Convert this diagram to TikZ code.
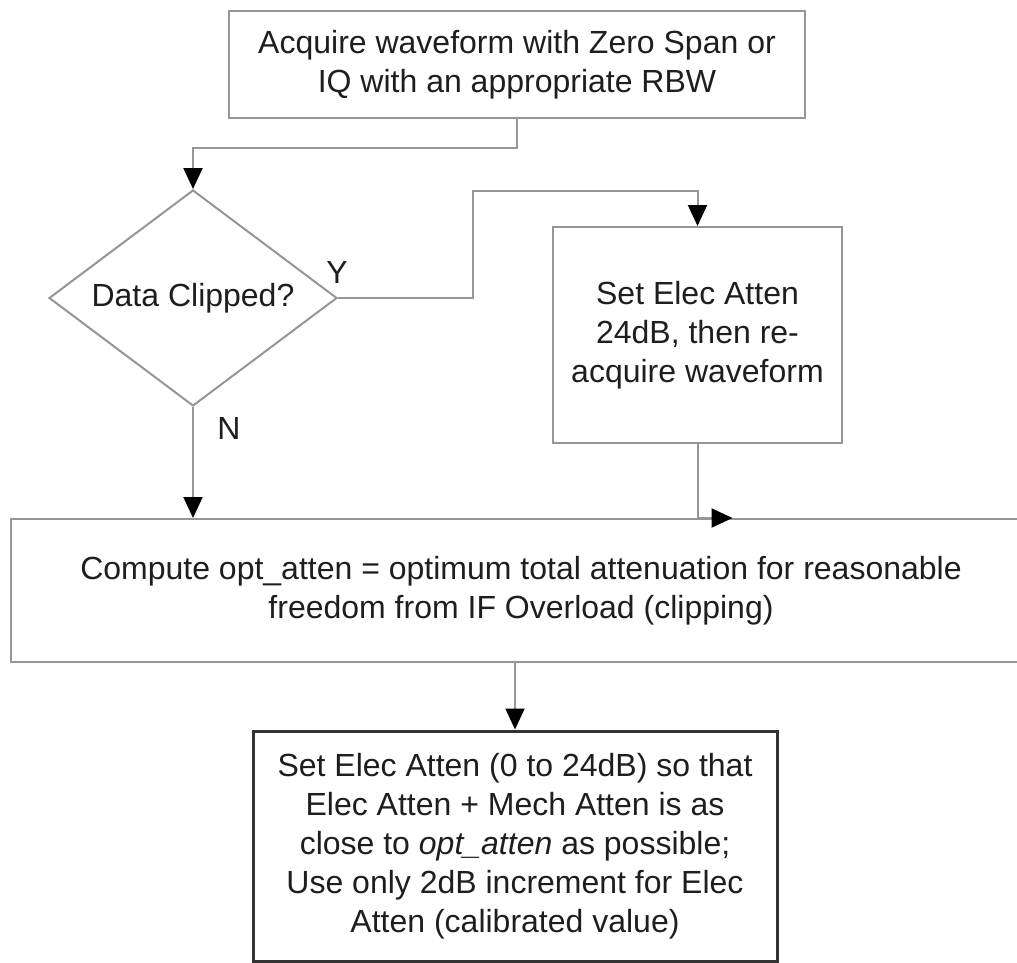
\documentclass[tikz,border=0pt]{standalone}
\usepackage{fontspec}
\setmainfont{Liberation Sans}
\usetikzlibrary{arrows.meta,shapes.geometric}
\definecolor{linegray}{RGB}{150,150,150}
\definecolor{textdark}{RGB}{30,30,30}

\begin{document}
\begin{tikzpicture}[
  x=0.5pt, y=-0.5pt,
  every node/.style={font=\fontsize{16}{19.5}\selectfont, text=textdark},
  box/.style={draw=linegray, line width=1pt, inner sep=0pt, align=center},
  decision/.style={diamond, draw=linegray, line width=1pt, inner sep=0pt, aspect=1.33, minimum width=144pt, minimum height=108pt},
  flow/.style={draw=linegray, line width=1pt, -{Triangle[length=10.5pt, width=9.5pt, black]}}
]
\path[use as bounding box, clip] (0,0) rectangle (1017,963);

% boxes
\node[box, minimum width=288pt, minimum height=53.5pt] (acquire) at (517,64.5)
  {Acquire waveform with Zero Span or\\IQ with an appropriate RBW};
\node[decision] (clipped) at (193,298) {Data Clipped?};
\node[box, minimum width=144.5pt, minimum height=108pt] (reacquire) at (697.5,335)
  {Set Elec Atten\\24dB, then re-\\acquire waveform};
\node[box, minimum width=510pt, minimum height=71.5pt] (compute) at (521,590.5)
  {Compute opt\_atten = optimum total attenuation for reasonable\\freedom from IF Overload (clipping)};
\node[box, draw=black!80, line width=1.5pt, minimum width=262pt, minimum height=115pt] (setatten) at (515,846)
  {Set Elec Atten (0 to 24dB) so that\\Elec Atten + Mech Atten is as\\close to \textit{opt\_atten} as possible;\\Use only 2dB increment for Elec\\Atten (calibrated value)};

% labels
\node (yes) at (337,272) {Y};
\node (no) at (229,428) {N};

% connectors
\draw[flow] (acquire.south) -- ++(0,29) -| (clipped.north);
\draw[flow] (clipped.east) -| (473,191) -| (reacquire.north);
\draw[flow] (clipped.south) -- (clipped.south |- compute.north);
\draw[flow] (reacquire.south) -- (reacquire.south |- compute.north) -- ++(35,0);
\draw[flow] (compute.south -| setatten.north) -- (setatten.north);
\end{tikzpicture}
\end{document}
